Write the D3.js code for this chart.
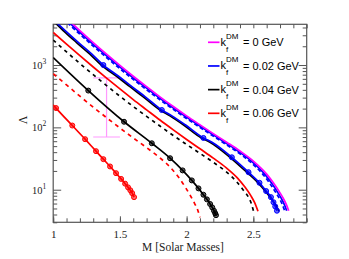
<!DOCTYPE html>
<html>
<head>
<meta charset="utf-8">
<script src="https://cdn.jsdelivr.net/npm/d3@7"></script>
<style>
  html, body { margin: 0; padding: 0; background: #fff; }
  svg text { font-family: "Liberation Serif", "Times New Roman", serif; }
  .leg text { font-family: "Liberation Sans", Arial, sans-serif; }
</style>
</head>
<body>
<div id="chart"></div>
<script>
// [mass, lambda]
const magentaK0 = [[1.1, 5623], [1.2, 3565], [1.3, 2291], [1.4, 1493], [1.5, 986], [1.6, 661], [1.7, 449], [1.8, 309], [1.9, 216], [2.0, 153], [2.1, 110], [2.2, 79.4], [2.3, 57.8], [2.4, 41.7], [2.5, 28.8], [2.6, 17.8], [2.65, 12.9], [2.7, 8.9], [2.73, 6.9], [2.75, 5.6], [2.765, 4.6]];
const blueSolid = [[1.085, 5623], [1.185, 3565], [1.285, 2291], [1.385, 1493], [1.485, 986], [1.585, 661], [1.685, 449], [1.785, 309], [1.885, 216], [1.985, 153], [2.085, 110], [2.185, 79.4], [2.285, 57.8], [2.385, 41.7], [2.485, 28.8], [2.585, 17.8], [2.635, 12.9], [2.685, 8.9], [2.715, 6.9], [2.735, 5.6], [2.75, 4.6]];
const blueDashed = [[1.07, 5623], [1.17, 3565], [1.27, 2291], [1.37, 1493], [1.47, 986], [1.57, 661], [1.67, 449], [1.77, 309], [1.87, 216], [1.97, 153], [2.07, 110], [2.17, 79.4], [2.27, 57.8], [2.37, 41.7], [2.47, 28.8], [2.57, 17.8], [2.62, 12.9], [2.67, 8.9], [2.70, 6.9], [2.72, 5.6], [2.737, 4.5]];
const blueDots = [[1.0, 5370], [1.09, 3565], [1.19, 2291], [1.29, 1493], [1.376, 1000], [1.49, 661], [1.59, 449], [1.69, 309], [1.814, 190], [1.89, 153], [1.99, 110], [2.126, 67.6], [2.19, 57.8], [2.339, 33.1], [2.464, 19.1], [2.546, 12.9], [2.596, 9.5], [2.632, 7.6], [2.651, 6.3], [2.664, 5.4], [2.677, 4.6]];
const blueDotsMarks = [[1.376, 1000], [1.814, 190], [2.126, 67.6], [2.339, 33.1], [2.464, 19.1], [2.546, 12.9], [2.596, 9.5], [2.632, 7.6], [2.651, 6.3], [2.664, 5.4], [2.677, 4.6]];
const blackSolid = [[1.0, 5130], [1.075, 3565], [1.175, 2291], [1.275, 1493], [1.36, 1000], [1.475, 661], [1.575, 449], [1.675, 309], [1.8, 190], [1.875, 153], [1.975, 110], [2.11, 67.6], [2.175, 57.8], [2.325, 33.1], [2.45, 19.1], [2.535, 12.9], [2.59, 9.5], [2.63, 7.4], [2.66, 6.0], [2.68, 5.1], [2.692, 4.5]];
const redSolid = [[1.0, 3334], [1.1, 2163], [1.2, 1413], [1.3, 929], [1.4, 617], [1.5, 413], [1.6, 279], [1.7, 191], [1.8, 131], [1.9, 91.2], [2.0, 64], [2.1, 45.3], [2.2, 32.1], [2.3, 22.2], [2.38, 15.5], [2.44, 10.8], [2.48, 8.1], [2.51, 6.2], [2.535, 4.5]];
const blackDashed = [[1.0, 2512], [1.1, 1622], [1.2, 1059], [1.3, 700], [1.4, 468], [1.5, 316], [1.6, 216], [1.7, 150], [1.8, 105], [1.9, 74.1], [2.0, 53.1], [2.1, 38.3], [2.2, 27.5], [2.3, 19.1], [2.37, 13.8], [2.42, 10.2], [2.46, 7.8], [2.485, 6.0], [2.502, 4.5]];
const blackDots = [[1.0, 1318], [1.263, 389], [1.531, 123], [1.739, 55.6], [1.876, 32], [1.97, 20.4], [2.039, 14.1], [2.089, 10.5], [2.126, 8.3], [2.152, 7.0], [2.176, 5.9], [2.192, 5.2], [2.205, 4.6], [2.214, 4.2], [2.22, 3.9]];
const redDashed = [[1.0, 724], [1.1, 479], [1.2, 316], [1.3, 211], [1.4, 143], [1.5, 97.7], [1.6, 67.6], [1.7, 47.3], [1.8, 32.4], [1.88, 22.6], [1.94, 15.8], [1.99, 11.0], [2.03, 7.9], [2.06, 6.0], [2.085, 4.6], [2.1, 3.6]];
const redDots = [[1.0, 229], [1.021, 204], [1.143, 107], [1.239, 64.6], [1.321, 41.5], [1.376, 30.9], [1.426, 23.6], [1.471, 18.4], [1.509, 14.9], [1.539, 12.5], [1.561, 10.9], [1.578, 9.8], [1.592, 8.8], [1.606, 7.6]];

// GW170817 style bound at 1.4 Msun
const boundM = 1.4, boundCap = [1.3, 1.5], boundLambda = [70, 620];

const legendLabels = ['0', '0.02', '0.04', '0.06'];
const legendColors = ['#ff00ff', '#0000ff', '#000000', '#ff0000'];

const xTicks = [1, 1.5, 2, 2.5];
const yTicks = [10, 100, 1000];

const W = 349, H = 259;
const L = 53.2, R = 306.7, T = 24.3, B = 222.3;

const svg = d3.select('#chart').append('svg')
  .attr('width', W).attr('height', H);

const x = d3.scaleLinear().domain([1, 2.9]).range([L, R]);
const y = d3.scaleLog().domain([3, 4500]).range([B, T]);

const minorX = d3.range(1, 2.91, 0.1);
const minorY = [];
[1, 10, 100, 1000].forEach(d => {
  for (let i = 2; i <= 9; i++) if (d * i >= 3 && d * i <= 4500) minorY.push(d * i);
});

function ax(gen, tx, ty) {
  const g = svg.append('g').attr('transform', `translate(${tx},${ty})`).call(gen);
  g.select('.domain').remove();
  g.selectAll('line').attr('stroke', '#555').attr('stroke-width', 1);
  return g;
}

// bottom & top ticks
ax(d3.axisBottom(x).tickValues(minorX).tickSize(-4).tickSizeOuter(0).tickFormat(''), 0, B);
ax(d3.axisTop(x).tickValues(minorX).tickSize(-4).tickSizeOuter(0).tickFormat(''), 0, T);
const xl = ax(d3.axisBottom(x).tickValues(xTicks).tickSize(-6).tickSizeOuter(0)
  .tickPadding(8).tickFormat(d3.format('')), 0, B);
xl.selectAll('text').attr('font-size', 11).attr('fill', '#222')
  .attr('font-family', '"Liberation Serif", serif');

// left & right ticks
ax(d3.axisLeft(y).tickValues(minorY).tickSize(-4).tickSizeOuter(0).tickFormat(''), L, 0);
ax(d3.axisRight(y).tickValues(minorY).tickSize(-4).tickSizeOuter(0).tickFormat(''), R, 0);
ax(d3.axisRight(y).tickValues(yTicks).tickSize(-8).tickSizeOuter(0).tickFormat(''), R, 0);
const yl = ax(d3.axisLeft(y).tickValues(yTicks).tickSize(-8).tickSizeOuter(0)
  .tickPadding(7).tickFormat(''), L, 0);
yl.selectAll('text').each(function(d) {
  const t = d3.select(this).attr('font-size', 10.5).attr('fill', '#222')
    .attr('font-family', '"Liberation Serif", serif');
  t.append('tspan').text('10');
  t.append('tspan').attr('dy', -5).attr('font-size', 7.5).text(Math.round(Math.log10(d)));
});

svg.append('rect').attr('x', L).attr('y', T).attr('width', R - L).attr('height', B - T)
  .attr('fill', 'none').attr('stroke', '#555').attr('stroke-width', 1.2);

svg.append('clipPath').attr('id', 'clip').append('rect')
  .attr('x', L).attr('y', T).attr('width', R - L).attr('height', B - T);
const plot = svg.append('g').attr('clip-path', 'url(#clip)');

const line = d3.line().x(d => x(d[0])).y(d => y(d[1])).curve(d3.curveMonotoneX);

// error bar
plot.append('line').attr('x1', x(boundM)).attr('x2', x(boundM))
  .attr('y1', y(boundLambda[0])).attr('y2', y(boundLambda[1]))
  .attr('stroke', '#ff99ff').attr('stroke-width', 1.2);
boundLambda.forEach(v => {
  plot.append('line').attr('x1', x(boundCap[0])).attr('x2', x(boundCap[1]))
    .attr('y1', y(v)).attr('y2', y(v))
    .attr('stroke', '#ff99ff').attr('stroke-width', 1.2);
});

const curves = [
  { d: redDots, c: '#ff0000', dash: null, marks: redDots.slice(1) },
  { d: redDashed, c: '#ff0000', dash: '4,4' },
  { d: blackDots, c: '#000000', dash: null, marks: blackDots.slice(1) },
  { d: blackDashed, c: '#000000', dash: '3.5,4' },
  { d: redSolid, c: '#ff0000', dash: null },
  { d: blackSolid, c: '#000000', dash: null },
  { d: blueDots, c: '#0000ff', dash: null, marks: blueDotsMarks },
  { d: blueDashed, c: '#0000ff', dash: '4,2.5' },
  { d: blueSolid, c: '#0000ff', dash: null },
  { d: magentaK0, c: '#ff00ff', dash: null }
];

curves.forEach(s => {
  plot.append('path').datum(s.d).attr('d', line)
    .attr('fill', 'none').attr('stroke', s.c).attr('stroke-width', 1.7)
    .attr('stroke-dasharray', s.dash);
  if (s.marks) {
    plot.selectAll(null).data(s.marks).enter()
      .append('circle')
      .attr('cx', d => x(d[0])).attr('cy', d => y(d[1])).attr('r', 2.5)
      .attr('fill', s.c).attr('fill-opacity', 0.6)
      .attr('stroke', s.c).attr('stroke-width', 1);
  }
});

// legend
const leg = svg.append('g').attr('class', 'leg');
legendLabels.forEach((lab, i) => {
  const ly = 42.3 + i * 23.67;
  const g = leg.append('g');
  g.append('line').attr('x1', 208).attr('x2', 219.5).attr('y1', ly).attr('y2', ly)
    .attr('stroke', legendColors[i]).attr('stroke-width', 1.7);
  g.append('text').attr('x', 220.5).attr('y', ly + 3.5).attr('font-size', 11).text('k');
  g.append('text').attr('x', 226).attr('y', ly - 3.5).attr('font-size', 8).text('DM');
  g.append('text').attr('x', 226).attr('y', ly + 9.5).attr('font-size', 8).text('f');
  g.append('text').attr('x', 243).attr('y', ly + 4).attr('font-size', 11).text('= ' + lab + ' GeV');
});

// axis titles
svg.append('text').attr('x', 183).attr('y', 250.5).attr('text-anchor', 'middle')
  .attr('font-size', 11.5).attr('fill', '#222').text('M [Solar Masses]');
svg.append('text').attr('transform', 'translate(27,120) rotate(-90)')
  .attr('text-anchor', 'middle').attr('font-size', 12).attr('fill', '#222').text('Λ');
</script>
</body>
</html>
